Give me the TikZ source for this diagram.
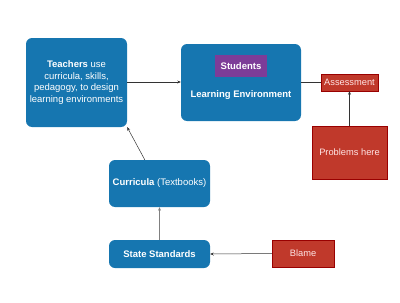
\documentclass[tikz,border=0pt]{standalone}
\usepackage{fontspec}
\setmainfont{Liberation Sans}
\usetikzlibrary{arrows.meta,calc}
\definecolor{bluebox}{RGB}{22,118,176}
\definecolor{redbox}{RGB}{192,57,43}
\definecolor{purplebox}{RGB}{125,60,152}
\tikzset{
  bbox/.style={draw=none, fill=bluebox, rounded corners=6pt, text=white, align=center, inner sep=0pt, font=\fontsize{9.5}{11.6}\selectfont},
  rbox/.style={draw=red!60!black, line width=0.4pt, fill=redbox, text=white!90!red, align=center, inner sep=0pt, font=\fontsize{9.3}{11}\selectfont},
  conn/.style={draw=black!80, line width=0.5pt, -{Stealth[length=3.5pt,width=3pt]}},
}
\begin{document}
\begin{tikzpicture}[x=1pt,y=-1pt]
\useasboundingbox (0,0) rectangle (400,303);
\node[bbox, minimum width=101pt, minimum height=89pt] (teach) at (76.5,82.5) {\textbf{Teachers} use\\curricula, skills,\\pedagogy, to design\\learning environments};
\node[bbox, minimum width=120pt, minimum height=77pt] (le) at (241,82.5) {};
\node[fill=purplebox, text=white, minimum width=52pt, minimum height=22pt, inner sep=0pt, font=\bfseries\fontsize{9.5}{11}\selectfont] (stud) at (241,66) {Students};
\node[text=white, font=\bfseries\fontsize{9.5}{11}\selectfont, inner sep=0pt] (let) at (241,95.5) {Learning Environment};
\node[rbox, minimum width=57pt, minimum height=17pt] (assess) at (349.5,82.5) {Assessment};
\node[rbox, minimum width=75pt, minimum height=53pt] (prob) at (349.5,152.5) {Problems here};
\node[bbox, minimum width=101pt, minimum height=47pt] (curr) at (159.5,183.5) {\textbf{Curricula} (Textbooks)};
\node[bbox, minimum width=101pt, minimum height=28pt] (state) at (159.5,254) {\textbf{State Standards}};
\node[rbox, minimum width=62pt, minimum height=27pt] (blame) at (303,253.5) {Blame};
\coordinate (cstart) at ($(curr.north west)+(36,0)$);
\draw[conn] (teach.east |- 0,82) -- (le.west |- 0,82);
\draw[draw=black!80, line width=0.5pt] (le.east |- 0,82) -- (assess.west |- 0,82);
\draw[conn] (prob.north) -- (assess.south);
\draw[conn] (cstart) -- (teach.south east);
\draw[conn, draw=black!50] (state.north) -- (curr.south);
\draw[conn] (blame.west) -- (state.east);
\end{tikzpicture}
\end{document}
